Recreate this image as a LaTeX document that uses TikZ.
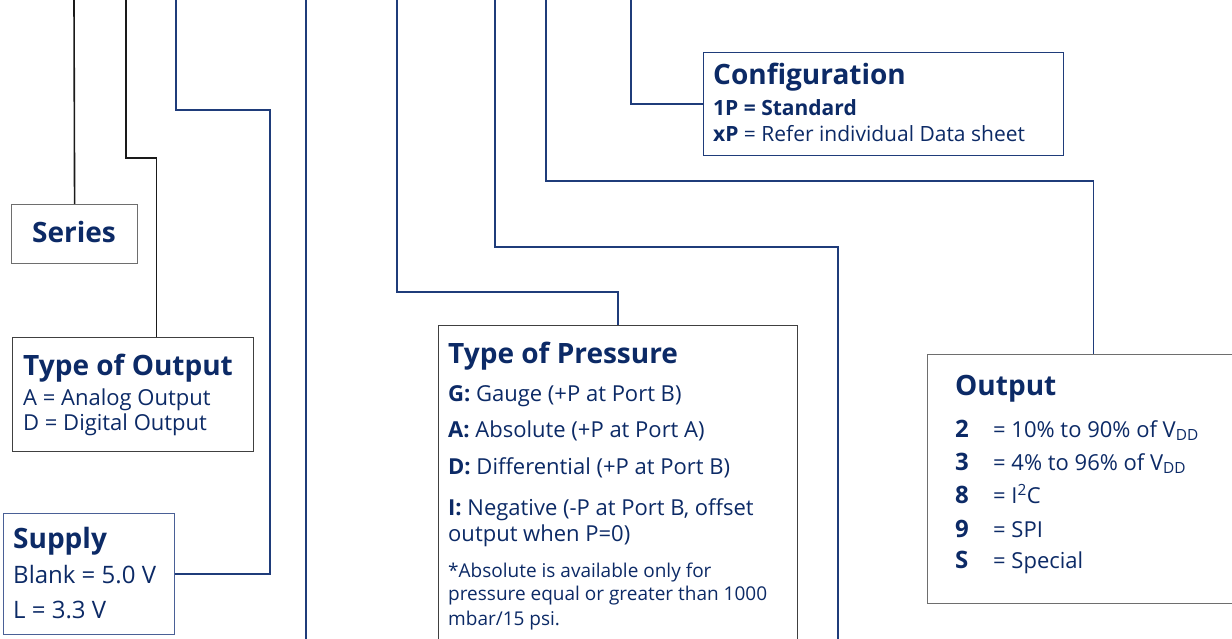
\documentclass[tikz,border=0pt]{standalone}
\usepackage{fontspec}
\setmainfont{Open Sans}
\usepackage{xcolor}
\usetikzlibrary{positioning, calc}

\definecolor{navy}{HTML}{0C2A66}
\definecolor{wire}{HTML}{1F3C7A}
\definecolor{blk}{HTML}{1A1A1A}
\definecolor{boxgray}{HTML}{6E6E6E}
\definecolor{boxdark}{HTML}{404040}
\definecolor{boxblue}{HTML}{4A6096}

\tikzset{
  box/.style={draw=boxgray, line width=1.2pt, anchor=north west, inner sep=0pt, fill=white},
  txt/.style={anchor=base west, inner sep=0pt, text=navy},
  head/.style={txt, font=\fontsize{28}{32}\selectfont\bfseries},
  body/.style={txt, font=\fontsize{22}{26}\selectfont},
  bline/.style={blk, line width=1.6pt},
  wline/.style={wire, line width=1.6pt}
}

\begin{document}
\begin{tikzpicture}[x=1pt, y=-1pt]
  \useasboundingbox (0,0) rectangle (1232,639);
  \clip (0,0) rectangle (1232,639);

  % free ends at the top edge
  \foreach \xx [count=\i] in {74,126,176,306,397,495,546,631}
    \coordinate (t\i) at (\xx,0);
  \coordinate (e4) at (306,660);
  \coordinate (e6) at (838,660);

  % Series
  \node[box, minimum width=126pt, minimum height=59pt] (series) at (11,204) {};
  \node[head, anchor=base] (serieshead) at (74,243) {Series};

  % Type of Output
  \node[box, draw=boxdark, minimum width=241pt, minimum height=114pt] (typeout) at (12,337) {};
  \node[head] (typeouthead) at (23,375) {Type of Output};
  \node[body] (typeout1) at (23,405) {A = Analog Output};
  \node[body] (typeout2) at (23,430) {D = Digital Output};

  % Supply
  \node[box, draw=boxblue, minimum width=171pt, minimum height=121pt] (supply) at (3,513) {};
  \node[head] (supplyhead) at (13,548) {Supply};
  \node[body, font=\fontsize{24}{28}\selectfont] (supply1) at (13,583) {Blank = 5.0 V};
  \node[body, font=\fontsize{24}{28}\selectfont] (supply2) at (13,618) {L = 3.3 V};

  % Type of Pressure
  \node[box, draw=boxdark, minimum width=359pt, minimum height=330pt] (pressure) at (438,325) {};
  \node[head] (preshead) at (448,363) {Type of Pressure};
  \foreach \k/\v/\yy [count=\i] in {G/{Gauge (+P at Port B)}/401, A/{Absolute (+P at Port A)}/437,
      D/{Differential (+P at Port B)}/474, I/{Negative (-P at Port B, offset}/515}
    \node[body] (pres\i) at (448,\yy) {\textbf{\k:} \v};
  \node[body] (pres5) at (448,541) {output when P=0)};
  \foreach \v/\yy [count=\i] in {{*Absolute is available only for}/577,
      {pressure equal or greater than 1000}/600, {mbar/15 psi.}/625}
    \node[body, font=\fontsize{19}{22}\selectfont] (presnote\i) at (448,\yy) {\v};

  % Configuration
  \node[box, draw=wire, minimum width=360pt, minimum height=103pt] (config) at (703,52) {};
  \node[head] (confighead) at (713,85) {Configuration};
  \node[body, font=\fontsize{21}{24}\selectfont\bfseries] (config1) at (713,116) {1P = Standard};
  \node[body, font=\fontsize{21}{24}\selectfont] (config2) at (713,142) {\textbf{xP} = Refer individual Data sheet};

  % Output
  \node[box, minimum width=332pt, minimum height=249pt] (output) at (927,354) {};
  \node[head] (outhead) at (955,395) {Output};
  \foreach \k/\v/\yy [count=\i] in {2/{10\% to 90\% of V\textsubscript{DD}}/437,
      3/{4\% to 96\% of V\textsubscript{DD}}/470, 8/{I\textsuperscript{2}C}/503,
      9/SPI/537, S/Special/568} {
    \node[body, font=\fontsize{24}{28}\selectfont\bfseries] (outkey\i) at (955,\yy) {\k};
    \node[body] (outval\i) at (993,\yy) {= \v};
  }

  % connectors
  \draw[bline] (t1) -- (series.north);
  \draw[bline] (t2) -- ++(0,158) -| ([xshift=23.5pt]typeout.north);
  \draw[wline] (t3) -- ++(0,110) -| ([xshift=95pt]supply.east) -- (supply.east);
  \draw[wline] (t4) -- (e4);
  \draw[wline] (t5) -- ++(0,292) -| (pressure.north);
  \draw[wline] (t6) -- ++(0,247) -| (e6);
  \draw[wline] (t7) -- ++(0,181) -| (output.north);
  \draw[wline] (t8) |- (config.west);
\end{tikzpicture}
\end{document}
